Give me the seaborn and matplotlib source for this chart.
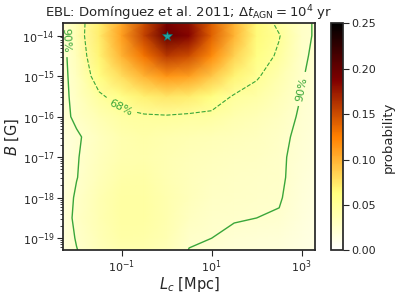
import numpy as np
import matplotlib
matplotlib.use("Agg")
import matplotlib.pyplot as plt
import seaborn as sns
from matplotlib.ticker import FixedLocator

# ─────────────────────────────────────────────
# Data
# ─────────────────────────────────────────────
log_lc = [-2.3, -2.0, -1.5, -1.0, -0.5, 0.0, 0.5, 1.0, 1.5, 2.0, 2.5, 3.0, 3.3]
log_b = [-19.3, -19.0, -18.5, -18.0, -17.5, -17.0, -16.5, -16.0, -15.5, -15.0, -14.5, -14.0, -13.7]

# one list per L_c column, values from bottom (small B) to top (large B)
col_m23 = [0.017, 0.018, 0.019, 0.018, 0.018, 0.017, 0.018, 0.021, 0.021, 0.021, 0.021, 0.022, 0.022]
col_m20 = [0.0245, 0.026, 0.028, 0.027, 0.0245, 0.024, 0.023, 0.028, 0.030, 0.032, 0.035, 0.038, 0.038]
col_m15 = [0.034, 0.036, 0.038, 0.038, 0.035, 0.033, 0.032, 0.038, 0.047, 0.060, 0.068, 0.072, 0.070]
col_m10 = [0.040, 0.043, 0.045, 0.045, 0.042, 0.040, 0.040, 0.045, 0.058, 0.080, 0.100, 0.110, 0.105]
col_m05 = [0.040, 0.042, 0.045, 0.045, 0.043, 0.041, 0.042, 0.047, 0.070, 0.100, 0.130, 0.155, 0.150]
col_p00 = [0.035, 0.038, 0.040, 0.040, 0.038, 0.038, 0.040, 0.048, 0.075, 0.115, 0.160, 0.200, 0.190]
col_p05 = [0.0245, 0.027, 0.031, 0.034, 0.034, 0.035, 0.038, 0.046, 0.072, 0.110, 0.150, 0.185, 0.180]
col_p10 = [0.022, 0.025, 0.027, 0.029, 0.031, 0.033, 0.036, 0.045, 0.062, 0.090, 0.120, 0.140, 0.140]
col_p15 = [0.020, 0.022, 0.026, 0.028, 0.029, 0.031, 0.034, 0.040, 0.048, 0.068, 0.085, 0.100, 0.100]
col_p20 = [0.019, 0.021, 0.025, 0.027, 0.028, 0.030, 0.032, 0.036, 0.043, 0.052, 0.060, 0.065, 0.065]
col_p25 = [0.018, 0.020, 0.024, 0.026, 0.027, 0.027, 0.028, 0.031, 0.035, 0.040, 0.047, 0.051, 0.045]
col_p30 = [0.015, 0.016, 0.018, 0.019, 0.020, 0.021, 0.022, 0.023, 0.0245, 0.026, 0.027, 0.028, 0.028]
col_p33 = [0.013, 0.014, 0.015, 0.016, 0.017, 0.018, 0.019, 0.020, 0.020, 0.021, 0.023, 0.024, 0.024]

# probability value at the 90% and 68% credible contours
level_90 = 0.025
level_68 = 0.05

x_ticks = [-1, 1, 3]
y_ticks = [-19, -18, -17, -16, -15, -14]

prob = np.array([col_m23, col_m20, col_m15, col_m10, col_m05, col_p00, col_p05,
                 col_p10, col_p15, col_p20, col_p25, col_p30, col_p33]).T

# ─────────────────────────────────────────────
# Plot (axes in log10 units, labelled as powers of ten)
# ─────────────────────────────────────────────
sns.set_theme(style="ticks")
plt.rcParams["font.family"] = ["DejaVu Sans"]
plt.rcParams["mathtext.fontset"] = "dejavusans"
green = "#3aa63a"

fig = plt.figure(figsize=(3.99, 2.97), dpi=100)
ax = fig.add_axes([0.158, 0.157, 0.632, 0.764])
cax = fig.add_axes([0.8296, 0.157, 0.0295, 0.764])

mesh = ax.pcolormesh(log_lc, log_b, prob, shading="gouraud", cmap="afmhot_r",
                     vmin=0, vmax=0.25, rasterized=True)

cs90 = ax.contour(log_lc, log_b, prob, levels=[level_90], colors=green,
                  linestyles="-", linewidths=1.0)
cs68 = ax.contour(log_lc, log_b, prob, levels=[level_68], colors=green,
                  linestyles="--", linewidths=0.8)
ax.clabel(cs90, fmt={level_90: "90%"}, fontsize=8, inline=True,
          manual=[(-2.2, -14.1), (2.93, -15.3)])
ax.clabel(cs68, fmt={level_68: "68%"}, fontsize=8, inline=True,
          manual=[(-1.0, -15.75)])

# best-fit star at the maximum of the grid
iy, ix = np.unravel_index(np.argmax(prob), prob.shape)
ax.plot(log_lc[ix], log_b[iy], marker="*", color="#1fa3a3", markersize=7,
        markeredgecolor="#0a6f6f", markeredgewidth=0.4, linestyle="none")

ax.set_xlim(log_lc[0], log_lc[-1])
ax.set_ylim(log_b[0], log_b[-1])
ax.xaxis.set_major_locator(FixedLocator(x_ticks))
ax.set_xticklabels([f"$10^{{{t}}}$" for t in x_ticks])
ax.yaxis.set_major_locator(FixedLocator(y_ticks))
ax.set_yticklabels([f"$10^{{{t}}}$" for t in y_ticks])
minor_y = [d + np.log10(k) for d in range(-20, -13) for k in range(2, 10)]
ax.yaxis.set_minor_locator(FixedLocator(minor_y))
ax.tick_params(axis="both", which="major", labelsize=8, length=4, width=0.8, pad=2)
ax.tick_params(axis="y", which="minor", length=2, width=0.6)

ax.set_xlabel(r"$L_c$ [Mpc]", fontsize=10.5, labelpad=0)
ax.set_ylabel(r"$B$ [G]", fontsize=10.5, labelpad=1)
ax.set_title(r"EBL: Domínguez et al. 2011; $\Delta t_\mathrm{AGN} = 10^4$ yr",
             fontsize=9.5, pad=3)

cbar = fig.colorbar(mesh, cax=cax)
cbar.set_ticks([0.0, 0.05, 0.10, 0.15, 0.20, 0.25])
cbar.ax.set_yticklabels(["0.00", "0.05", "0.10", "0.15", "0.20", "0.25"])
cbar.ax.tick_params(labelsize=8, length=4, width=0.8, pad=2)
cbar.set_label("probability", fontsize=9.5)

fig.savefig("out.png", dpi=100)
